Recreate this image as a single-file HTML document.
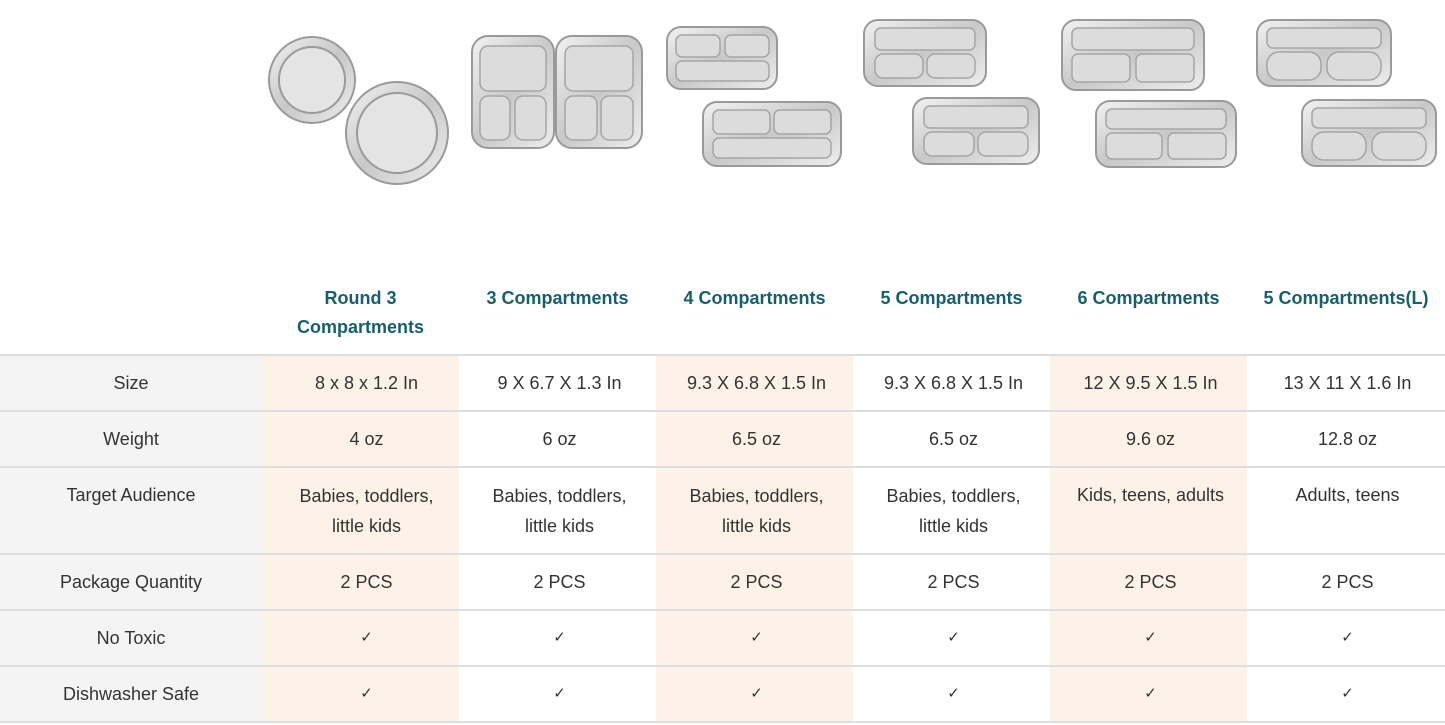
<!DOCTYPE html>
<html><head><style>
body{margin:0;width:1445px;height:725px;background:#fff;font-family:"Liberation Sans",sans-serif;position:relative;overflow:hidden}
.h{position:absolute;top:284px;width:197px;text-align:center;color:#17606b;font-weight:bold;font-size:18px;line-height:29px}
.c{position:absolute;text-align:center;color:#333;font-size:18px;line-height:30px;display:flex;align-items:center;justify-content:center;box-sizing:border-box}
.bg{position:absolute}
.ln{position:absolute;left:0;width:1445px;height:2px;background:#dedede}
</style></head><body>
<svg width="1445" height="260" style="position:absolute;left:0;top:0">
<defs><linearGradient id="g" x1="0" y1="0" x2="1" y2="1"><stop offset="0" stop-color="#f2f2f2"/><stop offset=".5" stop-color="#c8c8c8"/><stop offset="1" stop-color="#eeeeee"/></linearGradient></defs>
<g fill="url(#g)" stroke="#9a9a9a" stroke-width="2">
<circle cx="312" cy="80" r="43"/><circle cx="312" cy="80" r="33" fill="#e4e4e4"/>
<circle cx="397" cy="133" r="51"/><circle cx="397" cy="133" r="40" fill="#e4e4e4"/>
<rect x="472" y="36" width="82" height="112" rx="16"/><rect x="556" y="36" width="86" height="112" rx="16"/>
<rect x="667" y="27" width="110" height="62" rx="14"/><rect x="703" y="102" width="138" height="64" rx="14"/>
<rect x="864" y="20" width="122" height="66" rx="14"/><rect x="913" y="98" width="126" height="66" rx="14"/>
<rect x="1062" y="20" width="142" height="70" rx="14"/><rect x="1096" y="101" width="140" height="66" rx="14"/>
<rect x="1257" y="20" width="134" height="66" rx="14"/><rect x="1302" y="100" width="134" height="66" rx="14"/>
</g>
<g fill="#dcdcdc" stroke="#a5a5a5" stroke-width="1.5">
<rect x="480" y="46" width="66" height="45" rx="8"/><rect x="480" y="96" width="30" height="44" rx="8"/><rect x="515" y="96" width="31" height="44" rx="8"/>
<rect x="565" y="46" width="68" height="45" rx="8"/><rect x="565" y="96" width="32" height="44" rx="8"/><rect x="601" y="96" width="32" height="44" rx="8"/>
<rect x="676" y="35" width="44" height="22" rx="6"/><rect x="725" y="35" width="44" height="22" rx="6"/><rect x="676" y="61" width="93" height="20" rx="6"/>
<rect x="713" y="110" width="57" height="24" rx="6"/><rect x="774" y="110" width="57" height="24" rx="6"/><rect x="713" y="138" width="118" height="20" rx="6"/>
<rect x="875" y="28" width="100" height="22" rx="6"/><rect x="875" y="54" width="48" height="24" rx="8"/><rect x="927" y="54" width="48" height="24" rx="8"/>
<rect x="924" y="106" width="104" height="22" rx="6"/><rect x="924" y="132" width="50" height="24" rx="8"/><rect x="978" y="132" width="50" height="24" rx="8"/>
<rect x="1072" y="28" width="122" height="22" rx="6"/><rect x="1072" y="54" width="58" height="28" rx="6"/><rect x="1136" y="54" width="58" height="28" rx="6"/>
<rect x="1106" y="109" width="120" height="20" rx="6"/><rect x="1106" y="133" width="56" height="26" rx="6"/><rect x="1168" y="133" width="58" height="26" rx="6"/>
<rect x="1267" y="28" width="114" height="20" rx="6"/><rect x="1267" y="52" width="54" height="28" rx="12"/><rect x="1327" y="52" width="54" height="28" rx="12"/>
<rect x="1312" y="108" width="114" height="20" rx="6"/><rect x="1312" y="132" width="54" height="28" rx="12"/><rect x="1372" y="132" width="54" height="28" rx="12"/>
</g></svg>
<div class="bg" style="left:0;top:355px;width:262px;height:368px;background:#f4f4f4"></div>
<div class="bg" style="left:262px;top:355px;width:197px;height:368px;background:#fdf2e8"></div>
<div class="bg" style="left:656px;top:355px;width:197px;height:368px;background:#fdf2e8"></div>
<div class="bg" style="left:1050px;top:355px;width:197px;height:368px;background:#fdf2e8"></div>
<div class="ln" style="top:354px"></div><div class="ln" style="top:410px"></div><div class="ln" style="top:466px"></div><div class="ln" style="top:553px"></div><div class="ln" style="top:609px"></div><div class="ln" style="top:665px"></div><div class="ln" style="top:721px"></div>
<div class="h" style="left:262px">Round 3<br>Compartments</div>
<div class="h" style="left:459px">3 Compartments</div>
<div class="h" style="left:656px">4 Compartments</div>
<div class="h" style="left:853px">5 Compartments</div>
<div class="h" style="left:1050px">6 Compartments</div>
<div class="h" style="left:1247px;width:198px">5 Compartments(L)</div>
<div id="t"></div>
<script>
var rows=[[356,54,["Size","8 x 8 x 1.2 In","9 X 6.7 X 1.3 In","9.3 X 6.8 X 1.5 In","9.3 X 6.8 X 1.5 In","12 X 9.5 X 1.5 In","13 X 11 X 1.6 In"]],
[412,54,["Weight","4 oz","6 oz","6.5 oz","6.5 oz","9.6 oz","12.8 oz"]],
[468,85,["Target Audience","Babies, toddlers,<br>little kids","Babies, toddlers,<br>little kids","Babies, toddlers,<br>little kids","Babies, toddlers,<br>little kids","Kids, teens, adults","Adults, teens"]],
[555,54,["Package Quantity","2 PCS","2 PCS","2 PCS","2 PCS","2 PCS","2 PCS"]],
[611,54,["No Toxic","✓","✓","✓","✓","✓","✓"]],
[667,54,["Dishwasher Safe","✓","✓","✓","✓","✓","✓"]]];
var h="";rows.forEach(function(r,ri){r[2].forEach(function(t,i){var l=i==0?0:262+(i-1)*197+(i==1?6:2),w=i==0?262:197;
var al=(ri==2&&(i>=5||i==0))?"align-items:flex-start;padding-top:12px;":"";
h+='<div class="c" style="left:'+l+'px;top:'+r[0]+'px;width:'+w+'px;height:'+r[1]+'px;'+al+(t=="✓"?"font-size:15px;":"")+'">'+t+'</div>';});});
document.getElementById("t").innerHTML=h;
</script>
</body></html>
